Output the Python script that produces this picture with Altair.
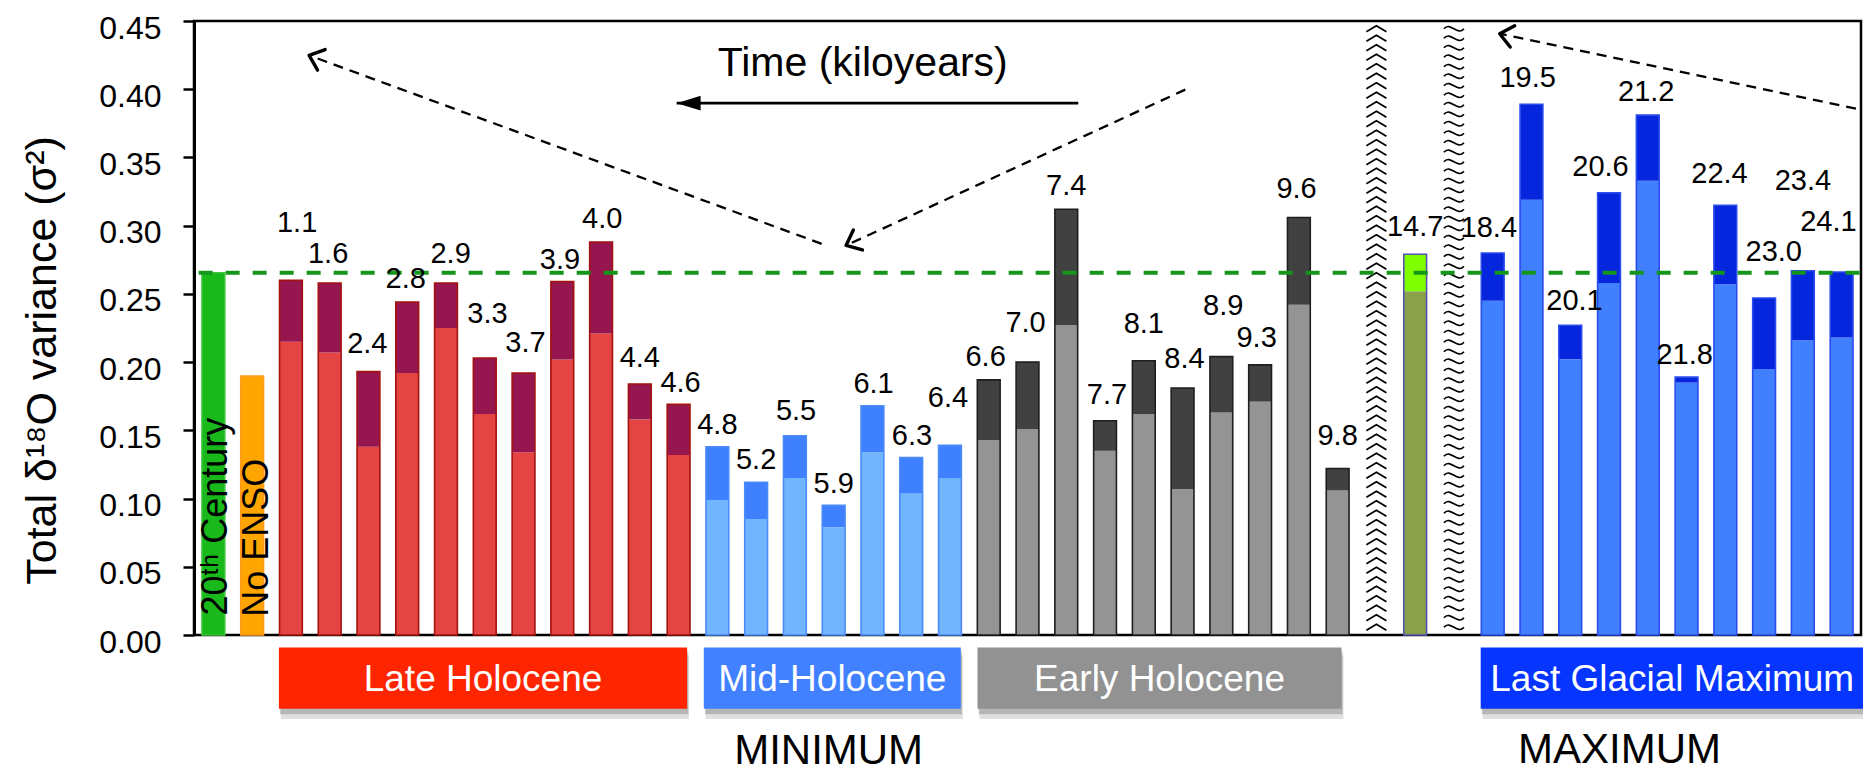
import math
import altair as alt
import pandas as pd

# ---------------- data ----------------
century_total = 0.2655
no_enso_total = 0.1897

late_ages = ["1.1", "1.6", "2.4", "2.8", "2.9", "3.3", "3.7", "3.9", "4.0", "4.4", "4.6"]
late_total = [0.260, 0.258, 0.193, 0.244, 0.258, 0.203, 0.192, 0.259, 0.288, 0.184, 0.169]
late_lower = [0.215, 0.207, 0.138, 0.192, 0.225, 0.162, 0.134, 0.202, 0.221, 0.158, 0.132]

mid_ages = ["4.8", "5.2", "5.5", "5.9", "6.1", "6.3", "6.4"]
mid_total = [0.138, 0.112, 0.146, 0.095, 0.168, 0.130, 0.139]
mid_lower = [0.099, 0.085, 0.115, 0.079, 0.134, 0.104, 0.115]

early_ages = ["6.6", "7.0", "7.4", "7.7", "8.1", "8.4", "8.9", "9.3", "9.6", "9.8"]
early_total = [0.187, 0.200, 0.312, 0.157, 0.201, 0.181, 0.204, 0.198, 0.306, 0.122]
early_lower = [0.143, 0.151, 0.227, 0.135, 0.162, 0.107, 0.163, 0.171, 0.242, 0.106]

deglacial_ages = ["14.7"]
deglacial_total = [0.279]
deglacial_lower = [0.252]

lgm_ages = ["18.4", "19.5", "20.1", "20.6", "21.2", "21.8", "22.4", "23.0", "23.4", "24.1"]
lgm_total = [0.280, 0.389, 0.227, 0.324, 0.381, 0.189, 0.315, 0.247, 0.267, 0.266]
lgm_lower = [0.245, 0.319, 0.202, 0.258, 0.333, 0.185, 0.257, 0.195, 0.216, 0.218]

# label anchors (variance units) and small horizontal nudges (in bar slots)
late_label_y = [0.302, 0.279, 0.213, 0.261, 0.279, 0.235, 0.214, 0.275, 0.305, 0.203, 0.185]
late_label_dx = [0.16, -0.04, -0.03, -0.04, 0.12, 0.07, 0.05, -0.06, 0.03, 0.0, 0.05]
mid_label_y = [0.154, 0.128, 0.164, 0.111, 0.184, 0.146, 0.174]
mid_label_dx = [0.0, 0.0, 0.03, 0.0, 0.03, 0.02, -0.05]
early_label_y = [0.204, 0.229, 0.329, 0.176, 0.228, 0.202, 0.241, 0.218, 0.327, 0.146]
early_label_dx = [-0.08, -0.05, 0.0, 0.05, 0.0, 0.05, 0.05, -0.09, -0.06, 0.0]
deglacial_label_y = [0.299]
deglacial_label_dx = [0.0]
lgm_label_y = [0.298, 0.408, 0.245, 0.343, 0.398, 0.205, 0.338, 0.281, 0.333, 0.303]
lgm_label_dx = [-0.1, -0.1, 0.11, -0.22, -0.04, -0.05, -0.15, 0.25, 0.0, -0.34]

vertical_labels = ["20\u1d57\u02b0 Century", "No ENSO"]

category_names = ["Late Holocene", "Mid-Holocene", "Early Holocene", "Last Glacial Maximum"]
category_x0 = [1.69, 12.65, 19.71, 32.69]
category_x1 = [12.22, 19.28, 29.10, 42.57]

period_names = ["MINIMUM", "MAXIMUM"]
period_x = [15.87, 36.27]
period_y = [-0.0945, -0.0935]

# dashed arrows (tail -> tip), in slot / variance units
arrow_x_tail = [15.69, 25.07, 42.37]
arrow_y_tail = [0.2867, 0.3997, 0.3857]
arrow_x_tip = [2.47, 16.32, 33.18]
arrow_y_tip = [0.4248, 0.2855, 0.4407]

time_label = "Time (kiloyears)"
time_arrow_x_tail = 22.31
time_arrow_x_tip = 11.95
time_arrow_y = 0.3898
time_label_x = 16.75
time_label_y = 0.4094

# ---------------- styles ----------------
FONT = "Liberation Sans, Arial, Helvetica, sans-serif"
W, H = 1667, 614
NSLOT = 43
PX_X = W / NSLOT
PX_Y = H / 0.45
HALF = 0.294

STYLE = {
    "century": dict(lo="#19B91B", hi="#19B91B", edge="#3CC43C"),
    "noenso": dict(lo="#FFA500", hi="#FFA500", edge="#FF9A1F"),
    "late": dict(lo="#E54542", hi="#961650", edge="#A3120E"),
    "mid": dict(lo="#71B5FF", hi="#3F80FF", edge="#4B8BF7"),
    "early": dict(lo="#949494", hi="#414141", edge="#1E1E1E"),
    "deglacial": dict(lo="#8BA04B", hi="#80FF00", edge="#5353AE"),
    "lgm": dict(lo="#4080FF", hi="#0626DE", edge="#2B4CEC"),
}
CATEGORY_COLORS = ["#FF2500", "#4181FF", "#929292", "#0535FF"]

series = {
    "century": ([None], [century_total], [century_total], [None], [0.0]),
    "noenso": ([None], [no_enso_total], [no_enso_total], [None], [0.0]),
    "late": (late_ages, late_total, late_lower, late_label_y, late_label_dx),
    "mid": (mid_ages, mid_total, mid_lower, mid_label_y, mid_label_dx),
    "early": (early_ages, early_total, early_lower, early_label_y, early_label_dx),
    "deglacial": (deglacial_ages, deglacial_total, deglacial_lower, deglacial_label_y, deglacial_label_dx),
    "lgm": (lgm_ages, lgm_total, lgm_lower, lgm_label_y, lgm_label_dx),
}
layout = ["century", "noenso", "late", "mid", "early", "gap", "deglacial", "gap", "lgm"]

rows, gaps = [], []
slot = 0
for key in layout:
    if key == "gap":
        gaps.append(slot)
        slot += 1
        continue
    ages, tot, low, ly, ldx = series[key]
    for i in range(len(tot)):
        rows.append(dict(slot=slot, group=key, age=ages[i], total=tot[i], lower=low[i],
                         ly=ly[i], lx=slot + ldx[i],
                         fill_lo=STYLE[key]["lo"], fill_hi=STYLE[key]["hi"], edge=STYLE[key]["edge"]))
        slot += 1
bars = pd.DataFrame(rows)
bars["zero"] = 0.0
labels = bars[bars["age"].notna()].copy()

vert = pd.DataFrame({
    "text": vertical_labels,
    "x": [bars.loc[bars.group == "century", "slot"].iloc[0] + 0.344,
          bars.loc[bars.group == "noenso", "slot"].iloc[0] + 0.40],
    "y": [0.0142, 0.0134],
})

cats = pd.DataFrame({"name": category_names, "x0": category_x0, "x1": category_x1,
                     "color": CATEGORY_COLORS})
cats["xm"] = (cats.x0 + cats.x1) / 2
BOX_TOP, BOX_BOT, BOX_TEXT = -0.0091, -0.0540, -0.0408

periods = pd.DataFrame({"name": period_names, "x": period_x, "y": period_y})

arrows = pd.DataFrame({"xt": arrow_x_tail, "yt": arrow_y_tail, "xp": arrow_x_tip, "yp": arrow_y_tip})
arrows["ang"] = [
    (math.degrees(math.atan2(-(yt - yp) * PX_Y, (xt - xp) * PX_X)) + 360) % 360
    for xt, yt, xp, yp in zip(arrows.xt, arrows.yt, arrows.xp, arrows.yp)
]

time_df = pd.DataFrame({"xt": [time_arrow_x_tail], "xp": [time_arrow_x_tip], "y": [time_arrow_y],
                        "lx": [time_label_x], "ly": [time_label_y], "text": [time_label]})

ref_df = pd.DataFrame({"x": [bars.loc[bars.group == "century", "slot"].iloc[0] - 0.38],
                       "x2": [NSLOT - 0.5], "y": [century_total]})

hatch_df = pd.DataFrame({"slot": gaps, "y": [0.225] * len(gaps), "kind": ["chevron", "wave"][:len(gaps)]})

# ---------------- shapes ----------------
R_HATCH = 304.0
hw = 10.0 / R_HATCH
amp = 6.0 / R_HATCH
n_rep = 64
step = 2.0 / n_rep
chev = []
wave = []
for i in range(n_rep):
    yc = -1 + step * (i + 0.5)
    chev.append(f"M{-hw:.4f},{yc + amp / 2:.4f}L0,{yc - amp / 2:.4f}L{hw:.4f},{yc + amp / 2:.4f}")
    wave.append(f"M{-hw:.4f},{yc:.4f}C{-hw / 3:.4f},{yc - amp * 1.3:.4f},{hw / 3:.4f},{yc + amp * 1.3:.4f},{hw:.4f},{yc:.4f}")
CHEVRON_COL = "".join(chev)
WAVE_COL = "".join(wave)
ARROW_HEAD = "M0.766,-0.643L0,0L0.766,0.643"
TRIANGLE = "M0,0L1,-0.31L1,0.31Z"

XS = alt.Scale(domain=[-0.5, NSLOT - 0.5], nice=False, zero=False)
YS = alt.Scale(domain=[0, 0.45], nice=False, zero=False)

YAXIS = alt.Axis(
    title="Total \u03b4\u00b9\u2078O variance (\u03c3\u00b2)",
    values=[0.0, 0.05, 0.10, 0.15, 0.20, 0.25, 0.30, 0.35, 0.40, 0.45],
    format=".2f", grid=False,
    domainColor="black", domainWidth=3,
    tickColor="black", tickWidth=2.5, tickSize=11,
    labelFont=FONT, labelFontSize=32, labelColor="black", labelPadding=22, labelOffset=7,
    titleFont=FONT, titleFontSize=43, titleFontWeight="normal", titleColor="black",
    titleAngle=270, titleX=-139, titleY=339, titleAlign="center", titleBaseline="alphabetic",
)


def X(f):
    return alt.X(f, type="quantitative", scale=XS, axis=None)


def Y(f):
    return alt.Y(f, type="quantitative", scale=YS, axis=YAXIS)


bar_base = alt.Chart(bars).transform_calculate(
    x0=f"datum.slot - {HALF}", x1=f"datum.slot + {HALF}"
)

bars_lo = bar_base.mark_rect().encode(
    x=X("x0"), x2="x1", y=Y("zero"), y2="lower:Q",
    fill=alt.Fill("fill_lo:N", scale=None),
)

bars_hi = bar_base.mark_rect().encode(
    x=X("x0"), x2="x1", y=Y("lower"), y2="total:Q",
    fill=alt.Fill("fill_hi:N", scale=None),
)

bars_edge = bar_base.mark_rect(fillOpacity=0, strokeWidth=1.6).encode(
    x=X("x0"), x2="x1", y=Y("zero"), y2="total:Q",
    stroke=alt.Stroke("edge:N", scale=None),
)

hatch_chev = alt.Chart(hatch_df[hatch_df.kind == "chevron"]).mark_point(
    shape=CHEVRON_COL, filled=False, size=(2 * R_HATCH) ** 2, color="black",
    strokeWidth=1.7, opacity=1
).encode(x=X("slot"), y=Y("y"))

hatch_wave = alt.Chart(hatch_df[hatch_df.kind == "wave"]).mark_point(
    shape=WAVE_COL, filled=False, size=(2 * R_HATCH) ** 2, color="black",
    strokeWidth=1.7, opacity=1
).encode(x=X("slot"), y=Y("y"))

ref_line = alt.Chart(ref_df).mark_rule(color="#14961A", strokeWidth=4, strokeDash=[14, 13]).encode(
    x=X("x"), x2="x2", y=Y("y")
)

bar_labels = alt.Chart(labels).mark_text(
    font=FONT, fontSize=29, color="black", align="center", baseline="middle"
).encode(x=X("lx"), y=Y("ly"), text="age:N")

vert_labels = alt.Chart(vert).mark_text(
    font=FONT, fontSize=36, color="black", angle=270, align="left", baseline="alphabetic"
).encode(x=X("x"), y=Y("y"), text="text:N")

shadow1 = alt.Chart(cats).mark_rect(color="#555555", opacity=0.18).encode(
    x=X("sx0"), x2="sx1", y=Y("sy0"), y2="sy1:Q"
).transform_calculate(sx0="datum.x0 + 0.05", sx1="datum.x1 + 0.05",
                      sy0=f"{BOX_TOP} - 0.006", sy1=f"{BOX_BOT} - 0.0075")
shadow2 = alt.Chart(cats).mark_rect(color="#555555", opacity=0.3).encode(
    x=X("sx0"), x2="sx1", y=Y("sy0"), y2="sy1:Q"
).transform_calculate(sx0="datum.x0 + 0.03", sx1="datum.x1 + 0.03",
                      sy0=f"{BOX_TOP} - 0.003", sy1=f"{BOX_BOT} - 0.004")

boxes = alt.Chart(cats).mark_rect().encode(
    x=X("x0"), x2="x1", y=Y("yt"), y2="yb:Q", fill=alt.Fill("color:N", scale=None)
).transform_calculate(yt=str(BOX_TOP), yb=str(BOX_BOT))

box_text = alt.Chart(cats).mark_text(
    font=FONT, fontSize=37, color="white", align="center", baseline="alphabetic"
).encode(x=X("xm"), y=Y("ty"), text="name:N").transform_calculate(ty=str(BOX_TEXT))

period_text = alt.Chart(periods).mark_text(
    font=FONT, fontSize=42, color="black", align="center", baseline="alphabetic"
).encode(x=X("x"), y=Y("y"), text="name:N")

dash_lines = alt.Chart(arrows).mark_rule(color="black", strokeWidth=2.3, strokeDash=[10, 7]).encode(
    x=X("xt"), y=Y("yt"), x2="xp", y2="yp:Q"
)
dash_heads = alt.Chart(arrows).mark_point(
    shape=ARROW_HEAD, filled=False, size=34 ** 2, color="black", strokeWidth=3.4,
    opacity=1, strokeCap="round", strokeJoin="round"
).encode(x=X("xp"), y=Y("yp"), angle=alt.Angle("ang:Q", scale=None))

time_line = alt.Chart(time_df).mark_rule(color="black", strokeWidth=2.7).encode(
    x=X("xt"), x2="xp", y=Y("y")
)
time_head = alt.Chart(time_df).mark_point(
    shape=TRIANGLE, filled=True, size=48 ** 2, color="black", opacity=1
).encode(x=X("xp"), y=Y("y"))
time_text = alt.Chart(time_df).mark_text(
    font=FONT, fontSize=41, color="black", align="center", baseline="alphabetic"
).encode(x=X("lx"), y=Y("ly"), text="text:N")

chart = alt.layer(
    bars_lo, bars_hi, bars_edge, hatch_chev, hatch_wave, ref_line,
    bar_labels, vert_labels,
    shadow1, shadow2, boxes, box_text, period_text,
    dash_lines, dash_heads, time_line, time_head, time_text,
).properties(
    width=W, height=H,
    autosize=alt.AutoSizeParams(type="none"),
    padding={"left": 186, "top": 13, "right": 2, "bottom": 139},
).configure_view(stroke="black", strokeWidth=2.5)

chart.save("out.html", embed_options={"renderer": "svg", "actions": False})
